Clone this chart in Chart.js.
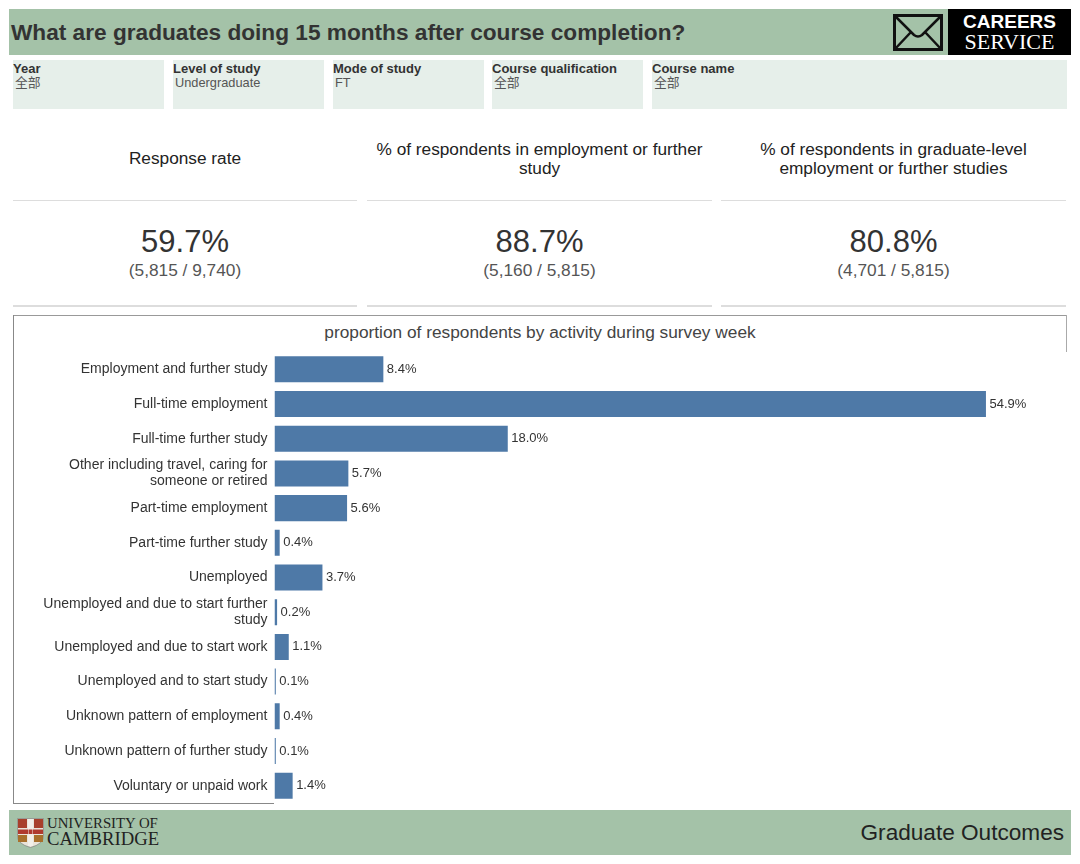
<!DOCTYPE html>
<html>
<head>
<meta charset="utf-8">
<title>Graduate Outcomes</title>
<script src="https://cdn.jsdelivr.net/npm/chart.js@4"></script>
<style>
  html, body { margin: 0; padding: 0; background: #fff; }
  body { width: 1080px; height: 864px; position: relative; overflow: hidden; font-family: "Liberation Sans", Arial, sans-serif; color: #333; }
  .abs { position: absolute; }
  .band { left: 9px; width: 1062px; background: #a4c2a8; }
  .filter { top: 60px; height: 49px; background: #e6efea; font-size: 13px; line-height: 15px; }
  .filter b { position: absolute; left: 0; top: 1px; white-space: nowrap; color: #333; }
  .filter span { position: absolute; left: 2px; top: 15px; font-size: 12.8px; white-space: nowrap; color: #555; }
  .filter span.cjk { top: 14px; font-family: "Noto Sans CJK SC", sans-serif; }
  .kpi-head { top: 140px; height: 40px; font-size: 17.25px; line-height: 19px; text-align: center; color: #222; }
  .kpi-line { height: 1px; background: #ddd; }
  .kpi-big { top: 223px; font-size: 31px; line-height: 38px; text-align: center; color: #333; }
  .kpi-sub { top: 260px; font-size: 17.3px; line-height: 20px; text-align: center; color: #555; }
</style>
</head>
<body>
  <!-- header -->
  <div class="abs band" style="top:9px;height:46px"></div>
  <div class="abs" style="left:11px;top:18px;font-size:22.65px;line-height:28px;font-weight:bold;color:#333;white-space:nowrap">What are graduates doing 15 months after course completion?</div>
  <svg class="abs" style="left:892px;top:13px" width="52" height="40" viewBox="0 0 52 40">
    <rect x="2.5" y="2.5" width="47" height="34" fill="none" stroke="#111" stroke-width="3"/>
    <path d="M3 3 L22 22 Q26 25 30 22 L49 3 M3 36 L19 19 M49 36 L33 19" fill="none" stroke="#111" stroke-width="2.5"/>
  </svg>
  <div class="abs" style="left:948px;top:9px;width:123px;height:46px;background:#000"></div>
  <div class="abs" style="left:948px;top:12px;width:123px;text-align:center;color:#fff;font-size:19px;line-height:20px;font-weight:bold">CAREERS</div>
  <div class="abs" style="left:948px;top:31px;width:123px;text-align:center;color:#fff;font-size:22px;line-height:22px;font-family:'Liberation Serif',serif">SERVICE</div>

  <!-- filters -->
  <div class="abs filter" style="left:13px;width:151px"><b>Year</b><span class="cjk">全部</span></div>
  <div class="abs filter" style="left:173px;width:151px"><b>Level of study</b><span>Undergraduate</span></div>
  <div class="abs filter" style="left:333px;width:151px"><b>Mode of study</b><span>FT</span></div>
  <div class="abs filter" style="left:492px;width:151px"><b>Course qualification</b><span class="cjk">全部</span></div>
  <div class="abs filter" style="left:652px;width:415px"><b>Course name</b><span class="cjk">全部</span></div>

  <!-- headline numbers -->
  <div class="abs kpi-head" style="left:13px;width:344px;top:149px">Response rate</div>
  <div class="abs kpi-head" style="left:367px;width:345px">% of respondents in employment or further study</div>
  <div class="abs kpi-head" style="left:721px;width:345px">% of respondents in graduate-level employment or further studies</div>
  <div class="abs kpi-line" style="left:13px;width:344px;top:200px"></div>
  <div class="abs kpi-line" style="left:367px;width:345px;top:200px"></div>
  <div class="abs kpi-line" style="left:721px;width:345px;top:200px"></div>
  <div class="abs kpi-big" style="left:13px;width:344px">59.7%</div>
  <div class="abs kpi-big" style="left:367px;width:345px">88.7%</div>
  <div class="abs kpi-big" style="left:721px;width:345px">80.8%</div>
  <div class="abs kpi-sub" style="left:13px;width:344px">(5,815 / 9,740)</div>
  <div class="abs kpi-sub" style="left:367px;width:345px">(5,160 / 5,815)</div>
  <div class="abs kpi-sub" style="left:721px;width:345px">(4,701 / 5,815)</div>
  <div class="abs kpi-line" style="left:13px;width:344px;top:305px;height:2px"></div>
  <div class="abs kpi-line" style="left:367px;width:345px;top:305px;height:2px"></div>
  <div class="abs kpi-line" style="left:721px;width:345px;top:305px;height:2px"></div>

  <!-- chart frame -->
  <div class="abs" style="left:13px;top:315px;width:1053px;height:1px;background:#999"></div>
  <div class="abs" style="left:13px;top:315px;width:1px;height:489px;background:#888"></div>
  <div class="abs" style="left:1066px;top:315px;width:1px;height:37px;background:#aaa"></div>
  <div class="abs" style="left:13px;top:803px;width:261px;height:1px;background:#888"></div>
  <div class="abs" style="left:14px;top:322px;width:1052px;text-align:center;font-size:17.3px;line-height:20px;color:#444">proportion of respondents by activity during survey week</div>
  <canvas id="activity-chart" class="abs" width="1051" height="451" style="left:14px;top:352px"></canvas>

  <!-- footer -->
  <div class="abs band" style="top:810px;height:45px"></div>
  <svg class="abs" style="left:17px;top:818px" width="27" height="30" viewBox="0 0 27 30">
    <path d="M0.5 0.5 H26.5 V18 Q26.5 26 13.5 29.5 Q0.5 26 0.5 18 Z" fill="#e9e4da" stroke="#777" stroke-width="0.6"/>
    <rect x="1" y="1" width="9" height="9" fill="#a8402c"/><rect x="17" y="1" width="9" height="9" fill="#a8402c"/>
    <rect x="1" y="17" width="9" height="7" fill="#a8702c"/><rect x="17" y="17" width="9" height="7" fill="#a8702c"/>
    <rect x="1" y="11.5" width="25" height="4.5" fill="#b03a2e"/><rect x="11" y="1" width="5" height="27" fill="#f2efe9"/>
    <rect x="11.5" y="11.5" width="4" height="4.5" fill="#b03a2e"/>
  </svg>
  <div class="abs" style="left:47px;top:816px;font-family:'Liberation Serif',serif;font-size:14.8px;line-height:15px;color:#222;white-space:nowrap">UNIVERSITY OF</div>
  <div class="abs" style="left:47px;top:830px;font-family:'Liberation Serif',serif;font-size:18.7px;line-height:18px;color:#222;white-space:nowrap">CAMBRIDGE</div>
  <div class="abs" style="right:16px;top:819px;font-size:22.6px;line-height:27px;color:#222;white-space:nowrap">Graduate Outcomes</div>

  <script>
    // Chart data
    const activityLabels = [
      'Employment and further study',
      'Full-time employment',
      'Full-time further study',
      ['Other including travel, caring for', 'someone or retired'],
      'Part-time employment',
      'Part-time further study',
      'Unemployed',
      ['Unemployed and due to start further', 'study'],
      'Unemployed and due to start work',
      'Unemployed and to start study',
      'Unknown pattern of employment',
      'Unknown pattern of further study',
      'Voluntary or unpaid work'
    ];
    const activityShares = [8.4, 54.9, 18.0, 5.7, 5.6, 0.4, 3.7, 0.2, 1.1, 0.1, 0.4, 0.1, 1.4];
    const axisMax = 61;

    // Writes the percentage just past the end of each bar
    const barValueLabels = {
      id: 'barValueLabels',
      afterDatasetsDraw(chart) {
        const { ctx } = chart;
        const bars = chart.getDatasetMeta(0).data;
        ctx.save();
        ctx.font = '13px "Liberation Sans", Arial, sans-serif';
        ctx.fillStyle = '#333';
        ctx.textAlign = 'left';
        ctx.textBaseline = 'middle';
        bars.forEach((bar, i) => {
          ctx.fillText(activityShares[i].toFixed(1) + '%', bar.x + 3.5, bar.y);
        });
        ctx.restore();
      }
    };

    new Chart(document.getElementById('activity-chart'), {
      type: 'bar',
      data: {
        labels: activityLabels,
        datasets: [{
          data: activityShares,
          backgroundColor: '#4e79a7',
          categoryPercentage: 0.75,
          barPercentage: 1
        }]
      },
      options: {
        indexAxis: 'y',
        responsive: false,
        animation: false,
        devicePixelRatio: 1,
        layout: { padding: 0 },
        plugins: { legend: { display: false }, tooltip: { enabled: false } },
        scales: {
          x: {
            min: 0,
            max: axisMax,
            display: false
          },
          y: {
            // labels sit in a fixed gutter so the bars start where the reference's do
            afterFit(axis) {
              axis.width = 260.5;
              axis.paddingTop = 0;
              axis.paddingBottom = 0;
            },
            grid: { display: false, drawTicks: false },
            border: { display: false },
            ticks: {
              autoSkip: false,
              padding: 7,
              color: '#333',
              font: { family: '"Liberation Sans", Arial, sans-serif', size: 14, lineHeight: 1.15 }
            }
          }
        }
      },
      plugins: [barValueLabels]
    });
  </script>
</body>
</html>
